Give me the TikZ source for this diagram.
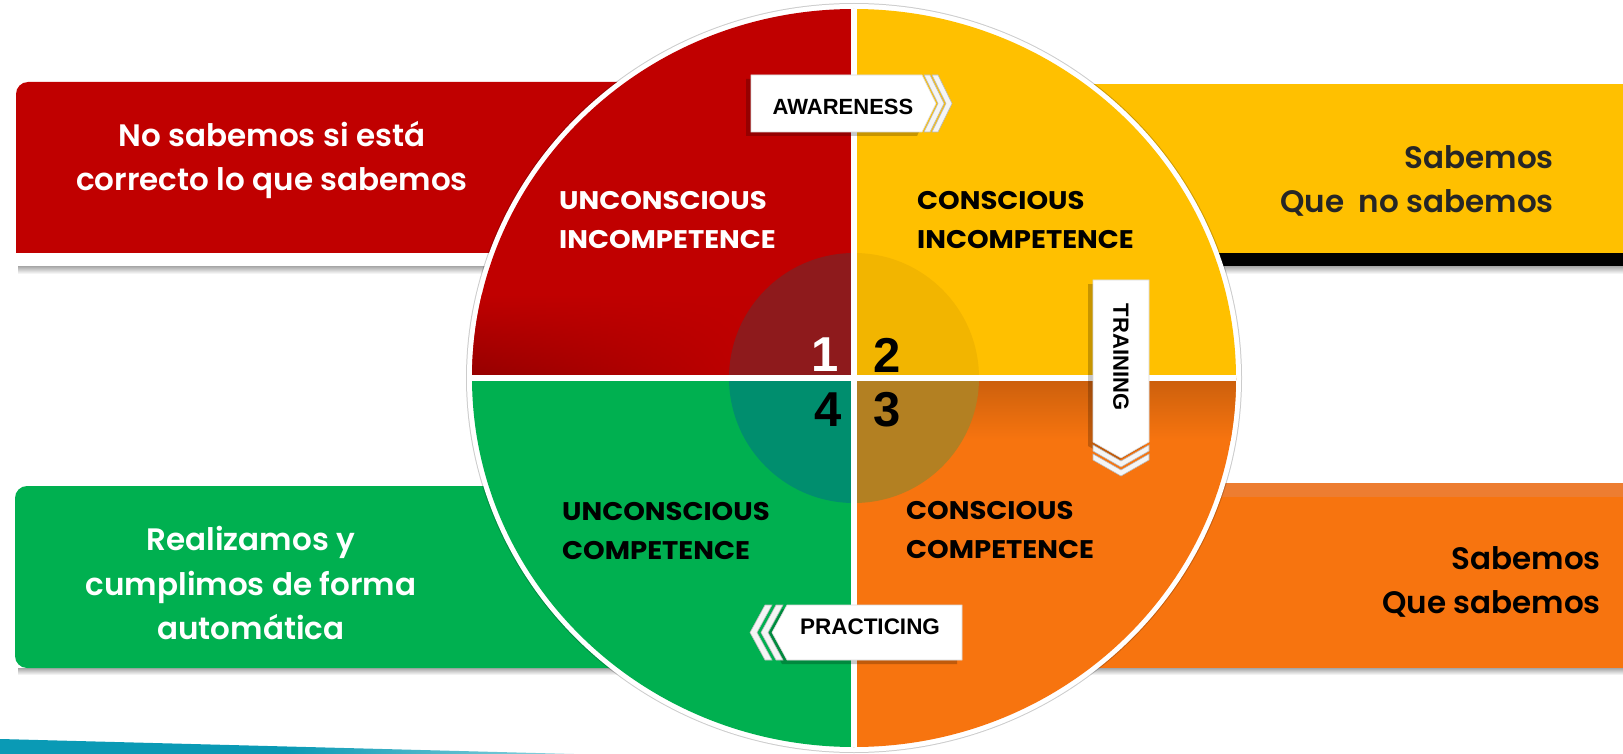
\documentclass[tikz,border=0pt]{standalone}
\usepackage{fontspec}
\setmainfont{Poppins}
\newfontfamily\semifont{Poppins SemiBold}
\newfontfamily\quadfont{Poppins}[FakeStretch=1.08]
\newfontfamily\tagfont{Liberation Sans}
\usepackage{tikz}
\usetikzlibrary{fadings}

\definecolor{qred}{HTML}{C00000}
\definecolor{qyellow}{HTML}{FFC000}
\definecolor{qgreen}{HTML}{00B050}
\definecolor{qorange}{HTML}{F7740F}
\definecolor{qorangelt}{HTML}{ED7D31}
\definecolor{ired}{HTML}{8E1A1C}
\definecolor{iyellow}{HTML}{F2B500}
\definecolor{igreen}{HTML}{008E6E}
\definecolor{iorange}{HTML}{B38022}
\definecolor{tealband}{HTML}{0A9AB5}
\definecolor{tealend}{HTML}{8FD3DE}
\definecolor{darktext}{HTML}{262626}

\tikzset{
  tagbox/.style={fill=white, draw=gray!30, line width=0.6pt},
  tagshadow/.style={fill=black, opacity=0.22},
  chev/.style={fill=gray!8, draw=gray!55, line width=0.6pt},
  tagtext/.style={inner sep=0pt, text=black, font=\tagfont\bfseries\fontsize{22}{22}\selectfont},
  quadlabel/.style={inner sep=0pt, align=left, anchor=west, font=\quadfont\bfseries\fontsize{25.5}{39}\selectfont},
  bartext/.style={inner sep=0pt, font=\semifont\fontsize{31}{44.5}\selectfont},
  bignum/.style={inner sep=0pt, font=\tagfont\bfseries\fontsize{49}{49}\selectfont},
  barshadow/.style={top color=black!35, bottom color=white}
}

\begin{document}
\begin{tikzpicture}[x=1pt,y=-1pt]
\useasboundingbox (0,0) rectangle (1623,754);
\coordinate (c) at (854,378);

% wedge at the bottom
\shade[left color=tealband, right color=tealend, middle color=tealband] (0,739) -- (574,754) -- (0,754) -- cycle;

% the four bars
\shade[barshadow] (18,266) rectangle (700,274);
\fill[qred, rounded corners=12pt] (16,82) rectangle (700,266);
\fill[white] (16,253) rectangle (700,266);
\shade[barshadow] (1000,266) rectangle (1623,274);
\fill[qyellow] (1000,84) rectangle (1623,253);
\fill[black] (1000,253) rectangle (1623,266);
\shade[barshadow] (18,668) rectangle (700,675);
\fill[qgreen, rounded corners=12pt] (15,486) rectangle (700,668);
\shade[barshadow] (1000,668) rectangle (1623,675);
\fill[qorangelt] (1000,483) rectangle (1623,497);
\fill[qorange] (1000,497) rectangle (1623,668);

% circle
\fill[black, opacity=0.2, shift={(-5,5)}] (c) ellipse [x radius=388, y radius=375];
\fill[white] (c) ellipse [x radius=387, y radius=374];
\begin{scope}
 \clip (c) ellipse [x radius=382, y radius=369];
 \fill[qred] (c) rectangle (400,0);
 \fill[qyellow] (c) rectangle (1300,0);
 \fill[qorange] (c) rectangle (1300,760);
 \fill[qgreen] (c) rectangle (400,760);
 \shade[top color=qred, bottom color=qred!75!black, path fading=east] (440,295) rectangle (760,378);
 \shade[top color=qorange!82!black, bottom color=qorange] (854,378) rectangle (1300,440);
 \begin{scope}
  \clip (c) circle [radius=125];
  \fill[ired] (c) rectangle (700,200);
  \fill[iyellow] (c) rectangle (1000,200);
  \fill[iorange] (c) rectangle (1000,560);
  \fill[igreen] (c) rectangle (700,560);
 \end{scope}
 \draw[white, line width=6pt] (854,0) -- (854,760);
 \draw[white, line width=6pt] (400,378) -- (1300,378);
\end{scope}

% quadrant labels
\node[quadlabel, text=white] (uiLabel) at (559,220) {UNCONSCIOUS\\INCOMPETENCE};
\node[quadlabel, text=black] (ciLabel) at (917,220) {CONSCIOUS\\INCOMPETENCE};
\node[quadlabel, text=black] (ucLabel) at (562,531) {UNCONSCIOUS\\COMPETENCE};
\node[quadlabel, text=black] (ccLabel) at (906,530) {CONSCIOUS\\COMPETENCE};

\node[bignum, text=white] (num1) at (825,355) {1};
\node[bignum, text=black] (num2) at (887,355) {2};
\node[bignum, text=black] (num3) at (887,410) {3};
\node[bignum, text=black] (num4) at (828,410) {4};

% bar texts
\node[bartext, text=white, align=center] (tlText) at (272,160) {No sabemos si está\\correcto lo que sabemos};
\node[bartext, text=darktext, align=right, anchor=east] (trText) at (1554,181) {Sabemos\\Que\ \ no sabemos};
\node[bartext, text=white, align=center] (blText) at (251,583) {Realizamos y\\cumplimos de forma\\automática};
\node[bartext, text=black, align=right, anchor=east] (brText) at (1601,582) {Sabemos\\Que sabemos};

% awareness tag
\fill[tagshadow, shift={(-5,4)}] (751,75) -- (922,75) -- (936,103.5) -- (922,132) -- (751,132) -- cycle;
\foreach \d in {16,8}
  \filldraw[chev] ({922+\d-6},75) -- ({922+\d},75) -- ({936+\d},103.5) -- ({922+\d},132) -- ({922+\d-6},132) -- ({936+\d-6},103.5) -- cycle;
\filldraw[tagbox] (751,75) -- (922,75) -- (936,103.5) -- (922,132) -- (751,132) -- cycle;
\node[tagtext] (awareness) at (843,107) {AWARENESS};

% training tag
\fill[tagshadow, shift={(-5,4)}] (1093,280) -- (1149,280) -- (1149,442) -- (1121,458) -- (1093,442) -- cycle;
\foreach \d in {18,9}
  \filldraw[chev] (1093,{442+\d-6}) -- (1121,{458+\d-6}) -- (1149,{442+\d-6}) -- (1149,{442+\d}) -- (1121,{458+\d}) -- (1093,{442+\d}) -- cycle;
\filldraw[tagbox] (1093,280) -- (1149,280) -- (1149,442) -- (1121,458) -- (1093,442) -- cycle;
\node[tagtext, rotate=-90] (training) at (1121,357) {TRAINING};

% practicing tag
\fill[tagshadow, shift={(-5,4)}] (787,605) -- (962,605) -- (962,660) -- (787,660) -- (772,632.5) -- cycle;
\foreach \d in {22,11}
  \filldraw[chev] ({787-\d},605) -- ({787-\d+7},605) -- ({772-\d+7},632.5) -- ({787-\d+7},660) -- ({787-\d},660) -- ({772-\d},632.5) -- cycle;
\filldraw[tagbox] (787,605) -- (962,605) -- (962,660) -- (787,660) -- (772,632.5) -- cycle;
\node[tagtext, font=\tagfont\bfseries\fontsize{22.5}{22.5}\selectfont] (practicing) at (870,627) {PRACTICING};
\end{tikzpicture}
\end{document}
